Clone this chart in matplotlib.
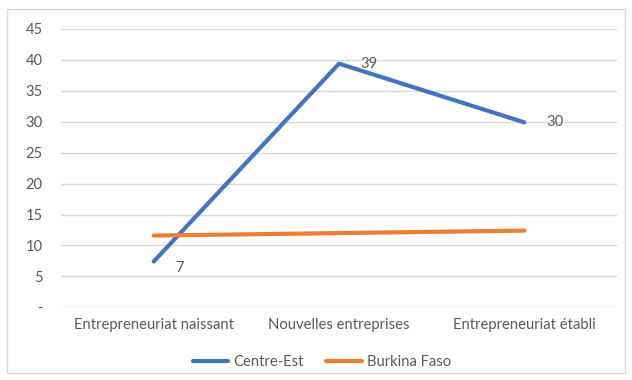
import matplotlib.pyplot as plt
from matplotlib.patches import Rectangle
import numpy as np

categories = ["Entrepreneuriat naissant", "Nouvelles entreprises", "Entrepreneuriat établi"]
centre_est = [7.4, 39.4, 29.9]
burkina_faso = [11.6, 12.0, 12.4]
yticks = [0, 5, 10, 15, 20, 25, 30, 35, 40, 45]
ytick_labels = ["-", "5", "10", "15", "20", "25", "30", "35", "40", "45"]

BLUE = "#4472C4"
ORANGE = "#ED7D31"
TEXT = "#595959"
GRID = "#D9D9D9"
FS = 10.6

plt.rcParams["font.family"] = ["Lato", "DejaVu Sans"]

fig = plt.figure(figsize=(6.32, 3.80), dpi=100)
W, H = 632, 380
ax = fig.add_axes([61 / W, 1 - 307.3 / H, (617 - 61) / W, (307.3 - 29) / H])

x = np.arange(len(categories))
ax.plot(x, centre_est, color=BLUE, lw=3, solid_capstyle="round", label="Centre-Est", zorder=3)
ax.plot(x, burkina_faso, color=ORANGE, lw=3, solid_capstyle="round", label="Burkina Faso", zorder=3)

for xi, v in zip(x, centre_est):
    ax.annotate(f"{v:.0f}", (xi, v), xytext=(15.5, -5 if v < 10 else 0), textcoords="offset points",
                ha="left", va="center", fontsize=FS, color=TEXT)

ax.set_xlim(-0.5, len(categories) - 0.5)
ax.set_ylim(0, 45)
ax.set_yticks(yticks)
ax.set_yticklabels(ytick_labels)
ax.set_xticks(x)
ax.set_xticklabels(categories)
ax.yaxis.grid(True, color=GRID, lw=1)
ax.set_axisbelow(True)
for s in ax.spines.values():
    s.set_visible(False)
ax.tick_params(axis="both", length=0, colors=TEXT, labelsize=FS)
ax.tick_params(axis="y", pad=13)
ax.tick_params(axis="x", pad=8)

leg = fig.legend(loc="center", bbox_to_anchor=(322 / W, 1 - 362 / H), ncol=2, frameon=False,
                 fontsize=FS, handlelength=2.4, columnspacing=1.5, handletextpad=0.35)
for t in leg.get_texts():
    t.set_color(TEXT)

fig.patches.append(Rectangle((7 / W, 1 - 373 / H), (625 - 7) / W, (373 - 9) / H,
                             transform=fig.transFigure, fill=False, edgecolor="#D9D9D9", lw=1))

fig.savefig("out.png", dpi=100)
